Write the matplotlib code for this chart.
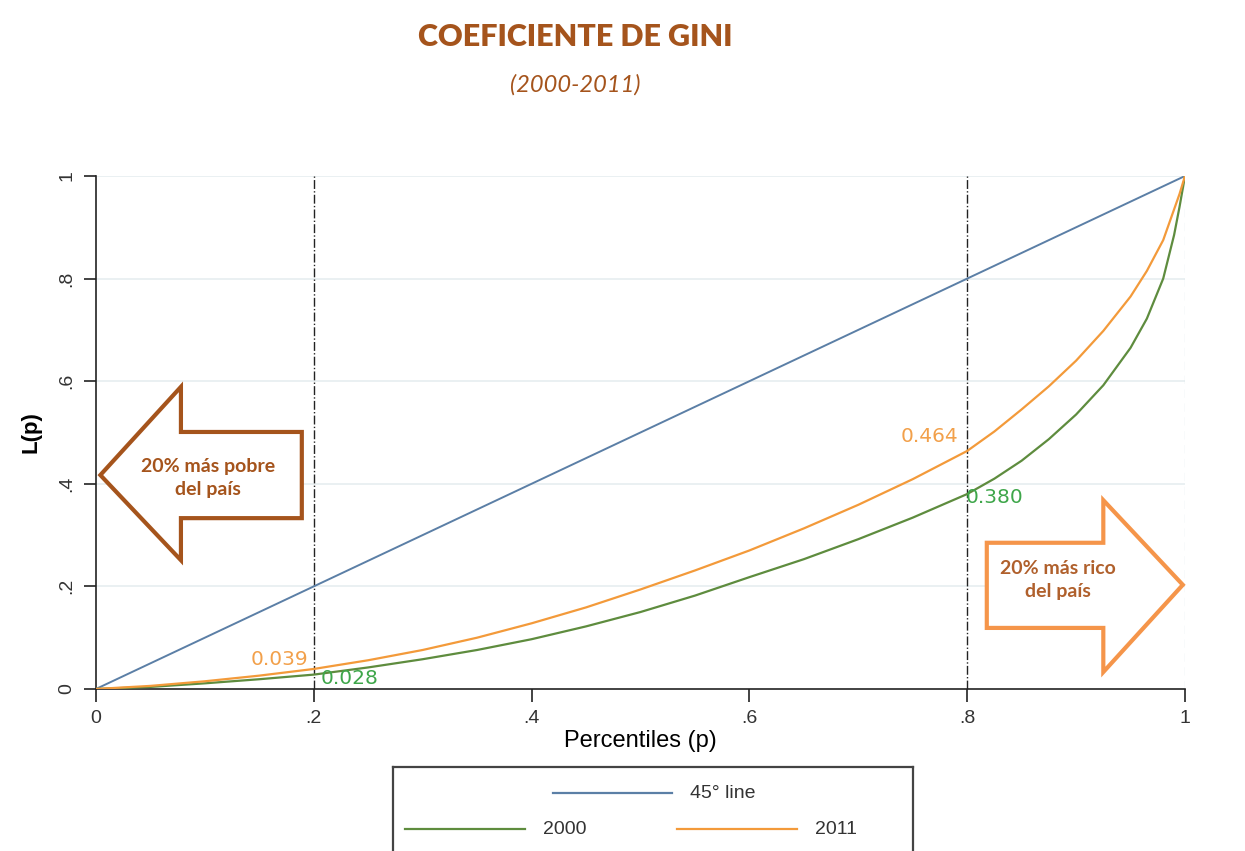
import matplotlib
matplotlib.use("Agg")
import matplotlib.pyplot as plt
from matplotlib.patches import Polygon
from matplotlib.lines import Line2D

# Percentiles and Lorenz curve values
percentiles = [0, 0.05, 0.1, 0.15, 0.2, 0.25, 0.3, 0.35, 0.4, 0.45, 0.5, 0.55, 0.6, 0.65, 0.7,
               0.75, 0.8, 0.825, 0.85, 0.875, 0.9, 0.925, 0.95, 0.965, 0.98, 0.99, 0.995, 1.0]
lorenz_2000 = [0, 0.004, 0.011, 0.019, 0.028, 0.042, 0.058, 0.076, 0.097, 0.122, 0.150, 0.182, 0.218, 0.253, 0.292,
               0.334, 0.380, 0.410, 0.445, 0.487, 0.535, 0.592, 0.665, 0.722, 0.800, 0.885, 0.940, 1.0]
lorenz_2011 = [0, 0.006, 0.015, 0.026, 0.039, 0.056, 0.076, 0.100, 0.128, 0.159, 0.194, 0.231, 0.270, 0.313, 0.359,
               0.409, 0.464, 0.502, 0.545, 0.590, 0.640, 0.698, 0.765, 0.815, 0.875, 0.935, 0.965, 1.0]
equality = [0, 1]

# valores marcados en p = .2 y p = .8
marked_p = [0.2, 0.8]
marked_2000 = [0.028, 0.380]
marked_2011 = [0.039, 0.464]

ticks = [0, 0.2, 0.4, 0.6, 0.8, 1.0]
tick_labels = ["0", ".2", ".4", ".6", ".8", "1"]

c_line45 = "#5b7fa6"
c_2000 = "#5e8c3e"
c_2011 = "#f39a3a"
c_lbl2000 = "#3ea64a"
c_lbl2011 = "#f2a04a"
c_brown = "#a5541c"
c_orange_arrow = "#f5954a"

fig = plt.figure(figsize=(12.45, 8.51), dpi=100)
fig.patch.set_facecolor("white")

# titulo
fig.text(0.462, 0.956, "COEFICIENTE DE GINI", ha="center", va="center",
         fontsize=22, fontweight="heavy", color=c_brown, family="Lato")
fig.text(0.462, 0.900, "(2000-2011)", ha="center", va="center",
         fontsize=17, style="italic", color=c_brown, family="Lato")

ax = fig.add_axes([0.0771, 0.1904, 0.8747, 0.6028])
ax.set_xlim(0, 1)
ax.set_ylim(0, 1)

for t in ticks[1:]:
    ax.axhline(t, color="#e6eef0", lw=1.2, zorder=0)
ax.axvline(1.0, color="#dfe8ec", lw=1.0, ls=(0, (6, 4)), zorder=0)

for p in marked_p:
    ax.axvline(p, color="#222222", lw=1.0, ls="-.", zorder=1)

ax.plot(equality, equality, color=c_line45, lw=1.4, zorder=3)
ax.plot(percentiles, lorenz_2000, color=c_2000, lw=1.6, zorder=3)
ax.plot(percentiles, lorenz_2011, color=c_2011, lw=1.6, zorder=3)

# etiquetas de valores
lbl_kw = dict(va="center", fontsize=14.5, family="DejaVu Sans")
ax.text(marked_p[0] - 0.005, marked_2011[0] + 0.019, f"{marked_2011[0]:.3f}", color=c_lbl2011,
        ha="right", **lbl_kw)
ax.text(marked_p[0] + 0.006, marked_2000[0] - 0.007, f"{marked_2000[0]:.3f}", color=c_lbl2000,
        ha="left", **lbl_kw)
ax.text(marked_p[1] - 0.008, marked_2011[1] + 0.029, f"{marked_2011[1]:.3f}", color=c_lbl2011,
        ha="right", **lbl_kw)
ax.text(marked_p[1] - 0.001, marked_2000[1] - 0.006, f"{marked_2000[1]:.3f}", color=c_lbl2000,
        ha="left", **lbl_kw)

# flechas
left_arrow = [(0.004, 0.417), (0.078, 0.589), (0.078, 0.501), (0.189, 0.501),
              (0.189, 0.333), (0.078, 0.333), (0.078, 0.251)]
ax.add_patch(Polygon(left_arrow, closed=True, facecolor="white", edgecolor=c_brown,
                     lw=3, joinstyle="miter", zorder=4, clip_on=False))
ax.text(0.103, 0.411, "20% más pobre\ndel país", ha="center", va="center",
        fontsize=14, fontweight="bold", color=c_brown, family="Lato",
        linespacing=1.4, zorder=5)

right_arrow = [(0.998, 0.203), (0.925, 0.368), (0.925, 0.285), (0.818, 0.285),
               (0.818, 0.119), (0.925, 0.119), (0.925, 0.033)]
ax.add_patch(Polygon(right_arrow, closed=True, facecolor="white", edgecolor=c_orange_arrow,
                     lw=3, joinstyle="miter", zorder=4, clip_on=False))
ax.text(0.883, 0.212, "20% más rico\ndel país", ha="center", va="center",
        fontsize=14, fontweight="bold", color="#b0602c", family="Lato",
        linespacing=1.4, zorder=5)

# ejes
for s in ["top", "right"]:
    ax.spines[s].set_visible(False)
for s in ["left", "bottom"]:
    ax.spines[s].set_color("#222222")
    ax.spines[s].set_linewidth(1.2)

ax.set_xticks(ticks)
ax.set_xticklabels(tick_labels, fontsize=14, color="#333333", family="Liberation Sans")
ax.set_yticks(ticks)
ax.set_yticklabels(tick_labels, fontsize=14, color="#333333", family="Liberation Sans",
                   rotation=90, va="center")
ax.tick_params(axis="both", length=9, width=1.2, color="#222222", pad=6)

ax.set_xlabel("Percentiles (p)", fontsize=17, family="Liberation Sans", labelpad=2)
ax.set_ylabel("L(p)", fontsize=16, fontweight="bold", family="Liberation Sans", labelpad=12)

# leyenda manual
lax = fig.add_axes([0.3157, -0.02, 0.4177, 0.1187])
lax.set_xlim(393, 913)
lax.set_ylim(868, 767)
lax.set_xticks([])
lax.set_yticks([])
for s in lax.spines.values():
    s.set_color("#444444")
    s.set_linewidth(1.6)
lax.add_line(Line2D([553, 672], [793, 793], color=c_line45, lw=1.6))
lax.text(690, 793, "45° line", va="center", fontsize=14, family="Liberation Sans", color="#333333")
lax.add_line(Line2D([405, 525], [829, 829], color=c_2000, lw=1.6))
lax.text(543, 829, "2000", va="center", fontsize=14, family="Liberation Sans", color="#333333")
lax.add_line(Line2D([677, 797], [829, 829], color=c_2011, lw=1.6))
lax.text(815, 829, "2011", va="center", fontsize=14, family="Liberation Sans", color="#333333")

fig.savefig("out.png", dpi=100)
